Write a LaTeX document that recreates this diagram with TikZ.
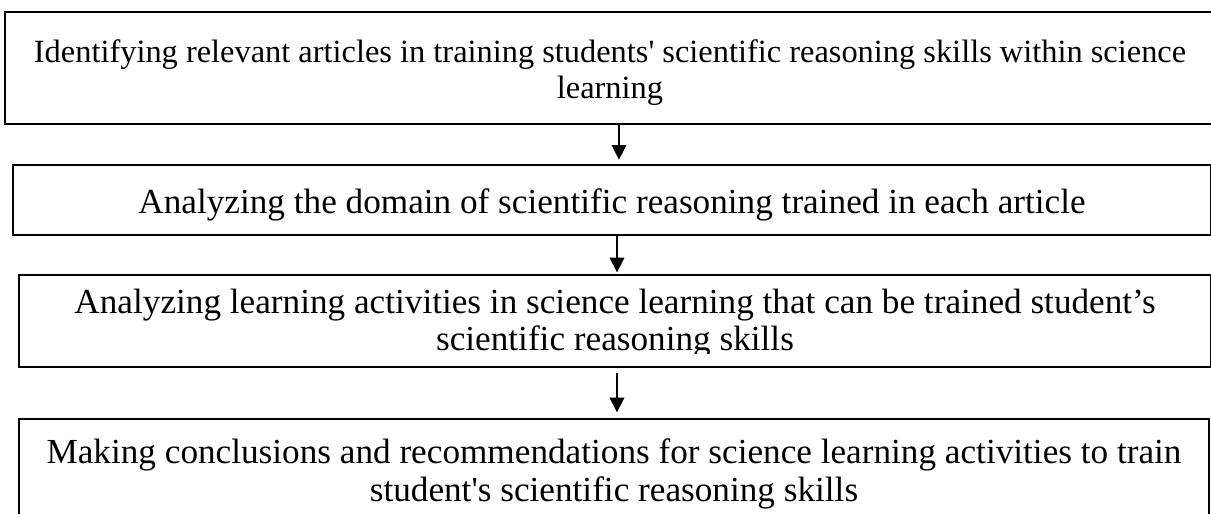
\documentclass[tikz,border=0pt]{standalone}
\usepackage{fontspec}
\setmainfont{Liberation Serif}
\usetikzlibrary{arrows.meta}

\tikzset{
  stepbox/.style={draw, line width=1.5pt, inner sep=0pt, outer sep=0pt,
    align=center, font=\fontsize{26.4}{28}\selectfont},
  steptext/.style={inner sep=0pt, align=center, font=\fontsize{26.4}{28}\selectfont},
  flowarrow/.style={line width=1pt, -{Triangle[width=11pt,length=11pt]}}
}

\begin{document}
\begin{tikzpicture}[x=0.75pt,y=-0.75pt]
    \clip (0,0) rectangle (1211,514);
    % the four stages, top to bottom
    \node[stepbox, minimum width=907.5pt, minimum height=84pt] (ident) at (610,68) {};
    \node[steptext, font=\fontsize{24.3}{27}\selectfont] (identtext) at ([yshift=-3.5pt]ident)
      {Identifying relevant articles in training students\textquotesingle{} scientific reasoning skills within science\\ learning};
    \node[stepbox, minimum width=898.5pt, minimum height=52.5pt] (dom) at (612,200) {};
    \node[steptext] (domtext) at ([yshift=-3.5pt]dom)
      {Analyzing the domain of scientific reasoning trained in each article};
    \node[stepbox, minimum width=894pt, minimum height=69pt] (act) at (615,321) {};
    \begin{scope}
      % second line runs into the lower margin of the box
      \clip (act.north west) rectangle ([yshift=10.5pt]act.south east);
      \node[steptext] (acttext) at ([yshift=-2pt]act)
        {Analyzing learning activities in science learning that can be trained student's\\ scientific reasoning skills};
    \end{scope}
    \node[stepbox, minimum width=892.5pt, minimum height=82.5pt] (concl) at (614,474)
      {Making conclusions and recommendations for science learning activities to train\\ student\textquotesingle{}s scientific reasoning skills};
    % arrows between the stages
    \foreach \a/\b/\s/\g/\h in {ident/dom/6.75pt/0pt/4pt, dom/act/3.75pt/0pt/2pt, act/concl/1.5pt/4.5pt/5pt}
      \draw[flowarrow, shorten <=\g, shorten >=\h] ([xshift=\s]\a.south) -- ([xshift=\s]\a.south |- \b.north);
\end{tikzpicture}
\end{document}
